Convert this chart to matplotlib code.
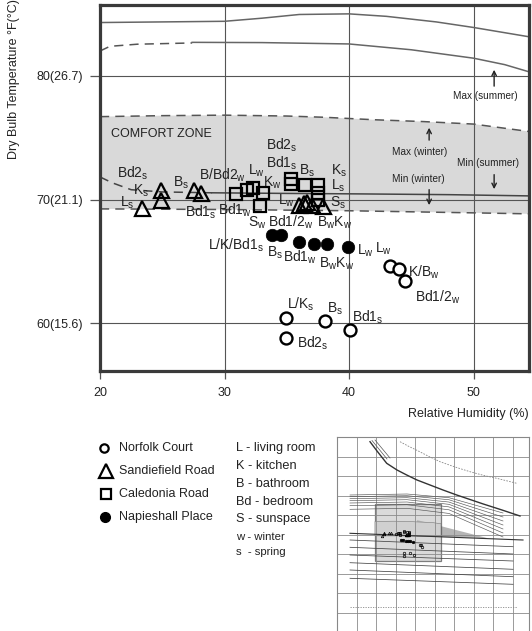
import numpy as np
import matplotlib
matplotlib.use('Agg')
import matplotlib.pyplot as plt
from matplotlib.transforms import Affine2D

plt.rcParams['font.family'] = ['Liberation Sans', 'DejaVu Sans']
plt.rcParams['mathtext.default'] = 'regular'

# ---------------- data ----------------
norfolk_rh = [43.3, 44.0, 44.5, 34.9, 38.1, 40.1, 34.9]
norfolk_t = [64.65, 64.4, 63.4, 60.4, 60.2, 59.5, 58.8]

napieshall_rh = [33.8, 34.5, 36.0, 37.2, 38.2, 39.95]
napieshall_t = [67.15, 67.15, 66.6, 66.4, 66.4, 66.15]

sandiefield_rh = [23.4, 24.9, 24.9, 27.55, 28.1, 36.0, 36.35, 36.65, 37.0, 37.9]
sandiefield_t = [69.3, 70.8, 70.0, 70.75, 70.5, 69.6, 69.75, 69.8, 69.6, 69.5]

caledonia_rh = [30.9, 31.8, 32.3, 33.1, 32.85, 35.3, 35.3, 36.5, 37.5, 37.5, 37.5]
caledonia_t = [70.45, 70.75, 70.95, 70.5, 69.5, 71.7, 71.25, 71.15, 71.15, 70.55, 69.95]

# boundary curves
comfort_top_rh = [20, 25, 30, 35, 38, 42, 46, 50, 54.45]
comfort_top_t = [76.7, 76.78, 76.82, 76.75, 76.65, 76.45, 76.3, 76.1, 75.5]
comfort_bot_rh = [20, 30, 40, 50, 54.45]
comfort_bot_t = [69.25, 69.2, 69.1, 68.93, 68.85]

min_summer_dash_rh = [20, 21, 22.5, 25, 29]
min_summer_dash_t = [71.83, 71.35, 70.8, 70.62, 70.55]
min_summer_rh = [29, 35, 41, 48, 54.45]
min_summer_t = [70.55, 70.5, 70.46, 70.4, 70.3]

max_summer_dash_rh = [20, 20.8, 23, 27.4]
max_summer_dash_t = [82.0, 82.38, 82.55, 82.65]
max_summer_rh = [27.4, 33, 40, 45, 50, 52.5, 54.45]
max_summer_t = [82.7, 82.68, 82.57, 82.1, 81.42, 80.9, 80.32]

upper_rh = [20, 30, 33, 36, 40, 43, 47, 50, 54.45]
upper_t = [84.3, 84.4, 84.65, 84.95, 85.0, 84.8, 84.35, 83.9, 83.15]

xticks = [20, 30, 40, 50]
yticks = [60, 70, 80]
yticklabels = ['60(15.6)', '70(21.1)', '80(26.7)']

point_labels = [
    ('Bd2$_s$', 21.37, 71.75), ('K$_s$', 22.65, 70.38), ('L$_s$', 21.61, 69.41),
    ('B$_s$', 25.86, 71.03), ('B/Bd2$_w$', 27.95, 71.59), ('L$_w$', 31.89, 71.99),
    ('K$_w$', 33.09, 71.03), ('Bd1$_s$', 26.83, 68.60), ('Bd1$_w$', 29.48, 68.76),
    ('S$_w$', 31.89, 67.79), ('L/K/Bd1$_s$', 28.67, 65.94), ('B$_s$', 33.41, 65.37),
    ('Bd2$_s$', 33.33, 74.05), ('Bd1$_s$', 33.33, 72.55), ('B$_s$', 35.98, 71.99),
    ('K$_s$', 38.55, 71.99), ('L$_s$', 38.55, 70.78), ('S$_s$', 38.47, 69.41),
    ('L$_w$', 34.30, 69.57), ('Bd1/2$_w$', 33.49, 67.79), ('B$_w$K$_w$', 37.43, 67.79),
    ('Bd1$_w$', 34.70, 64.97), ('B$_w$K$_w$', 37.59, 64.49), ('L$_w$', 40.64, 65.54),
    ('L$_w$', 42.09, 65.70), ('K/B$_w$', 44.74, 63.76), ('Bd1/2$_w$', 45.30, 61.74),
    ('L/K$_s$', 35.02, 61.17), ('B$_s$', 38.23, 60.85), ('Bd1$_s$', 40.24, 60.12),
    ('Bd2$_s$', 35.82, 58.02),
]

legend_sites = ['Norfolk Court', 'Sandiefield Road', 'Caledonia Road', 'Napieshall Place']
legend_codes = ['L - living room', 'K - kitchen', 'B - bathroom', 'Bd - bedroom',
                'S - sunspace', 'w - winter', 's  - spring']

# inset (schematic psychrometric chart), local pixel-like units
ins_sat_x = [33, 40, 49.7, 60, 69.7, 80, 93, 106, 119.7, 133, 146.3, 165, 183]
ins_sat_y = [4.7, 14, 26.3, 33, 38, 43, 48, 53, 58, 62.5, 67, 73, 79]
ins_dash_x = [63, 72, 80.7, 92, 103, 118, 133, 147, 159.7, 179.7]
ins_dash_y = [4.7, 9.5, 13.7, 19.5, 24.7, 30, 34.7, 38.5, 41.3, 46.3]
ins_fan_y0 = [58, 59.7, 61.7, 63.7, 66, 68.7, 72.3]
ins_fan_y1 = [76, 80, 84, 88, 92, 96, 100]
ins_low_y0 = [103, 110.3, 118, 125.7, 133, 141.3]
ins_low_y1 = [109.7, 117, 124, 132.3, 139.7, 147.3]

# ---------------- figure ----------------
fig = plt.figure(figsize=(5.32, 6.31), dpi=100)

lax = fig.add_axes([0, 0, 1, 1])
lax.set_xlim(0, 532)
lax.set_ylim(631, 0)
lax.axis('off')

ax = fig.add_axes([100 / 532, 1 - 370.5 / 631, 429 / 532, 365.8 / 631])
ax.set_xlim(20, 54.45)
ax.set_ylim(56.2, 85.74)

gc = '#555555'
ax.set_xticks(xticks)
ax.set_yticks(yticks)
ax.set_yticklabels(yticklabels)
ax.tick_params(axis='both', direction='out', color=gc, width=0.9, labelsize=9,
               labelcolor='#222222')
ax.tick_params(axis='x', length=6, pad=6)
ax.tick_params(axis='y', length=7, pad=5)
ax.grid(True, color=gc, linewidth=0.8, zorder=1)
for s in ax.spines.values():
    s.set_linewidth(2.3)
    s.set_color('#3a3a3a')
    s.set_zorder(10)

# comfort zone
ax.fill(comfort_top_rh + comfort_bot_rh[::-1], comfort_top_t + comfort_bot_t[::-1],
        color='#d9d9d9', zorder=0.5, lw=0)
ax.plot(comfort_top_rh, comfort_top_t, color='#555555', lw=1.1, ls=(0, (6, 4)), zorder=2)
ax.plot(comfort_bot_rh, comfort_bot_t, color='#555555', lw=1.1, ls=(0, (6, 4)), zorder=2)
ax.plot(min_summer_dash_rh, min_summer_dash_t, color='#444444', lw=1.1, ls=(0, (6, 4)), zorder=2)
ax.plot(min_summer_rh, min_summer_t, color='#444444', lw=1.1, zorder=2)
ax.plot(max_summer_dash_rh, max_summer_dash_t, color='#555555', lw=1.1, ls=(0, (6, 4)), zorder=2)
ax.plot(max_summer_rh, max_summer_t, color='#666666', lw=1.1, zorder=2)
ax.plot(upper_rh, upper_t, color='#666666', lw=1.1, zorder=2)

ax.text(20.88, 75.3, 'COMFORT ZONE', fontsize=9, ha='left', va='center', color='#222222')

# arrows + annotations
arr = dict(arrowstyle='->', color='#222222', lw=1, mutation_scale=8)
ax.annotate('', xy=(46.43, 76.03), xytext=(46.43, 74.58), arrowprops=arr)
ax.text(45.66, 73.81, 'Max (winter)', fontsize=7.2, ha='center', va='center', color='#222222')
ax.annotate('', xy=(46.43, 69.33), xytext=(46.43, 71.03), arrowprops=arr)
ax.text(45.54, 71.63, 'Min (winter)', fontsize=7.2, ha='center', va='center', color='#222222')
ax.annotate('', xy=(51.65, 70.62), xytext=(51.65, 72.24), arrowprops=arr)
ax.text(51.12, 72.92, 'Min (summer)', fontsize=7.2, ha='center', va='center', color='#222222')
ax.annotate('', xy=(51.65, 80.71), xytext=(51.65, 78.94), arrowprops=arr)
ax.text(50.92, 78.37, 'Max (summer)', fontsize=7.2, ha='center', va='center', color='#222222')

# points
mk = dict(ls='none', color='black', zorder=5)
ax.plot(norfolk_rh, norfolk_t, marker='o', ms=8.6, mfc='white', mec='black', mew=1.7, **mk)
ax.plot(napieshall_rh, napieshall_t, marker='o', ms=9, mfc='black', mec='black', mew=0.5, **mk)
ax.plot(sandiefield_rh, sandiefield_t, marker='^', ms=10.8, mfc='none', mec='black', mew=1.6, **mk)
ax.plot(caledonia_rh, caledonia_t, marker='s', ms=8, mfc='none', mec='black', mew=1.6, **mk)

for txt, x, y in point_labels:
    ax.text(x, y, txt, fontsize=10, ha='left', va='baseline', color='#222222', zorder=6)

# axis labels
fig.text(529 / 532, 1 - 413.6 / 631, 'Relative Humidity (%)', fontsize=9,
         ha='right', va='center', color='#222222')
fig.text(14 / 532, 1 - 79 / 631, 'Dry Bulb Temperature °F(°C)', fontsize=9,
         rotation=90, ha='center', va='center', color='#222222')

# ---------------- legend ----------------
leg_y = [448.3, 470.7, 494.3, 516.7]
lax.plot([103.7], [leg_y[0]], marker='o', ms=6, mfc='white', mec='black', mew=1.6, ls='none')
lax.plot([105.5], [leg_y[1]], marker='^', ms=10, mfc='none', mec='black', mew=1.6, ls='none')
lax.plot([105.5], [leg_y[2]], marker='s', ms=7.4, mfc='none', mec='black', mew=1.6, ls='none')
lax.plot([105.3], [leg_y[3]], marker='o', ms=7, mfc='black', mec='black', ls='none')
for name, y in zip(legend_sites, leg_y):
    lax.text(119.3, y, name, fontsize=9, ha='left', va='center', color='#222222')

code_y = [448.3, 466, 483.7, 501.7, 519.3, 536.7, 551.7]
code_fs = [9.2, 9.2, 9.2, 9.2, 9.2, 8.2, 8.2]
for txt, y, fs in zip(legend_codes, code_y, code_fs):
    lax.text(235.7, y, txt, fontsize=fs, ha='left', va='center', color='#222222')

# ---------------- inset ----------------
iax = fig.add_axes([337 / 532, 0, 192 / 532, 194 / 631])
iax.set_xlim(0, 192)
iax.set_ylim(194, 0)
iax.set_xticks(np.arange(0, 192, 19.5))
iax.set_yticks(np.arange(0, 194, 19.5))
iax.tick_params(length=0, labelbottom=False, labelleft=False)
iax.grid(True, color='#8a8a8a', lw=0.6)
for k, s in iax.spines.items():
    s.set_color('#888888')
    s.set_linewidth(0.8)
iax.spines['bottom'].set_visible(False)

iax.plot(ins_sat_x, ins_sat_y, color='#333333', lw=1.0)
iax.plot([35, 50], [3.5, 22], color='#555555', lw=0.5)
iax.plot([38, 53], [3.0, 21], color='#555555', lw=0.5)
iax.plot(ins_dash_x, ins_dash_y, color='#888888', lw=0.6, ls=(0, (2, 1.5)))
for y0, y1 in zip(ins_fan_y0, ins_fan_y1):
    iax.plot([13, 70, 112, 166], [y0, y0 - 1.0, y0 + (y1 - y0) * 0.15, y1],
             color='#555555', lw=0.45)
for y0, y1 in zip(ins_low_y0, ins_low_y1):
    iax.plot([13, 176], [y0, y1], color='#444444', lw=0.55)
iax.plot([13, 186], [96.3, 103], color='#333333', lw=0.8)
iax.plot([13, 180], [169.7, 169.7], color='#888888', lw=0.6, ls=(0, (1.5, 1.5)))
iax.fill([80, 150, 80], [83, 101, 99.7], color='#b5b5b5', lw=0)
iax.fill([38, 104, 104, 38], [67, 67, 124, 124], facecolor='#bdbdbd', alpha=0.55,
         edgecolor='#222222', lw=0.9)

# main chart contents mapped into the inset box
tr = (Affine2D().translate(-20, -56.2).scale(66 / 34.45, -57 / 29.54)
      .translate(38, 124) + iax.transData)
iax.fill(comfort_top_rh + comfort_bot_rh[::-1], comfort_top_t + comfort_bot_t[::-1],
         transform=tr, color='#d0d0d0', lw=0.4, ec='#777777')
for xs, ys, m, fc in [(norfolk_rh, norfolk_t, 'o', 'none'), (napieshall_rh, napieshall_t, 'o', 'black'),
                      (sandiefield_rh, sandiefield_t, '^', 'none'), (caledonia_rh, caledonia_t, 's', 'none')]:
    iax.plot(xs, ys, marker=m, ms=1.8, mfc=fc, mec='black', mew=0.5, ls='none', transform=tr)

fig.savefig('out.png', dpi=100)
